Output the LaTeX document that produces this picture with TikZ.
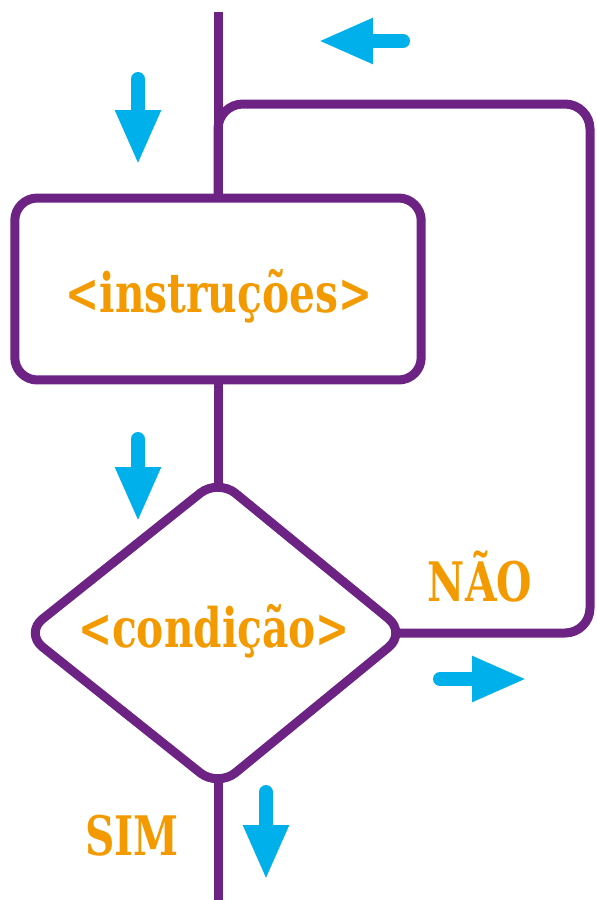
\documentclass[tikz,border=0pt]{standalone}
\usepackage{fontspec}
\usetikzlibrary{arrows.meta}
\newfontfamily\labelfont{DejaVuSerifCondensed-Bold.ttf}[FakeStretch=0.83]
\definecolor{roxo}{HTML}{6C2383}
\definecolor{laranja}{HTML}{F39A00}
\definecolor{azul}{HTML}{00B0EB}
\begin{document}
\begin{tikzpicture}[x=0.02cm, y=-0.02cm,
    linha/.style={draw=roxo, line width=0.18cm},
    texto/.style={text=laranja, anchor=base, inner sep=0pt, font=\labelfont\fontsize{31}{33}\selectfont},
    seta/.style={azul, line width=0.28cm, line cap=round,
      -{Triangle[width=0.84cm, length=1.1cm]}}]
      \useasboundingbox (0,0) rectangle (597,900);
      % blocos
      \node[linha, rectangle, rounded corners=0.45cm, minimum width=8.13cm,
        minimum height=3.64cm, inner sep=0pt, outer sep=0pt] (instr) at (218,289) {};
      \node[texto] (tinstr) at (219,312) {<instruções>};
      \coordinate (ctop) at (218,479);
      \coordinate (cright) at (406,633);
      \coordinate (cbot) at (218,787);
      \coordinate (cleft) at (25,633);
      \draw[linha, rounded corners=0.45cm] (ctop) -- (cright) -- (cbot) -- (cleft) -- cycle;
      \node[texto] (cond) at (214,647) {<condição>};
      \node[texto] (nao) at (480,601) {NÃO};
      \node[texto] (sim) at (132,855) {SIM};
      % ligacoes
      \coordinate (cnorte) at (218,488);
      \coordinate (csul) at (218,778);
      \coordinate (cleste) at (396,633);
      \coordinate (inicio) at (218,12);
      \coordinate (fim) at (218,902);
      \coordinate (canto) at (590,104);
      \draw[linha] (inicio) -- (instr.north);
      \draw[linha] (instr.south) -- (cnorte);
      \draw[linha] (csul) -- (fim);
      \draw[linha, rounded corners=0.5cm] (cleste) -- (cleste -| canto) -- (canto)
        -- (canto -| instr.north) -- (instr.north);
      % setas
      \draw[seta] (138,79) -- (138,165);
      \draw[seta] (403,41) -- (318,41);
      \draw[seta] (138,439) -- (138,522);
      \draw[seta] (440,679) -- (527,679);
      \draw[seta] (266,792) -- (266,880);
    \end{tikzpicture}
\end{document}
